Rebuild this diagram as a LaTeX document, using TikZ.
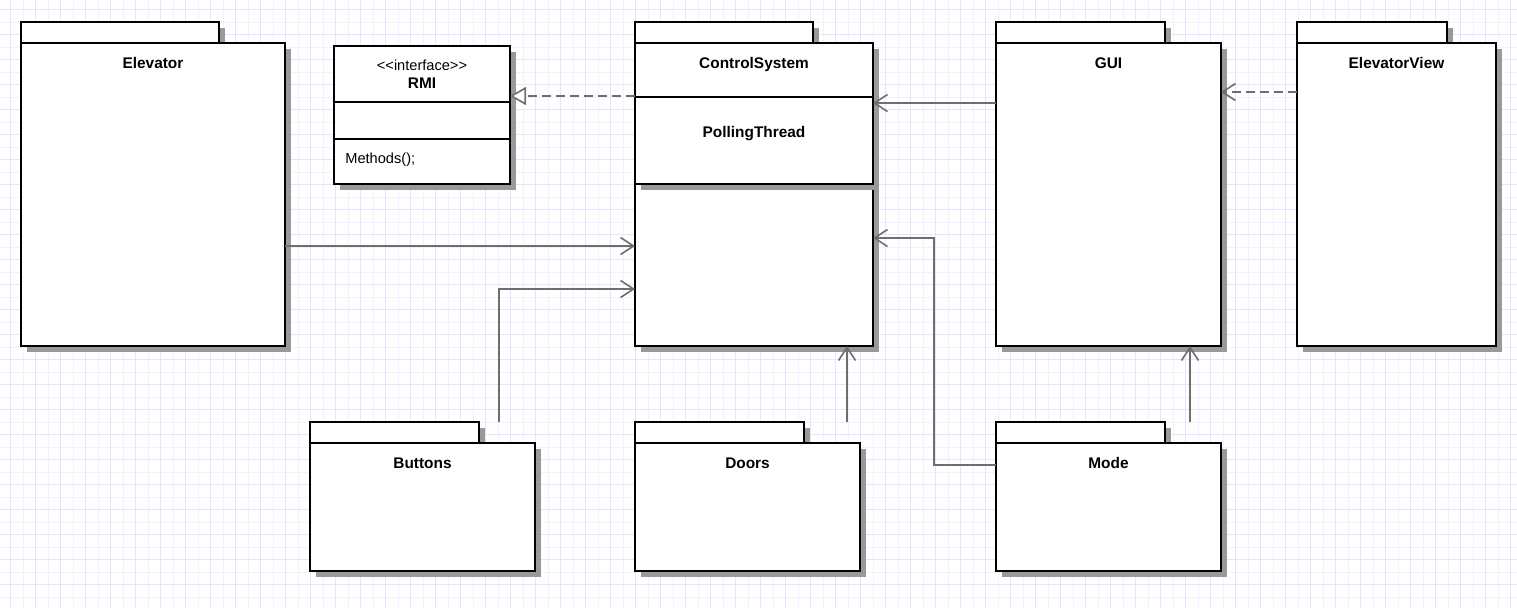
\documentclass[tikz,border=0pt]{standalone}
\usepackage{fontspec}
\setmainfont{Liberation Sans}
\usetikzlibrary{arrows.meta, shadows}
\definecolor{gridminor}{HTML}{F2F2FF}
\definecolor{gridmajor}{HTML}{E4E4FF}
\definecolor{linkgray}{HTML}{6E6E6E}
\tikzset{
    pkgbox/.style={draw, line width=1pt, fill=white, anchor=north west, inner sep=0pt, outer sep=0pt,
        drop shadow={shadow xshift=3pt, shadow yshift=-3pt, fill=black!40, opacity=1}},
    pkgtab/.style={pkgbox, minimum height=10.5pt},
    pkgtitle/.style={font=\fontsize{7.7}{9}\selectfont\bfseries, anchor=base, inner sep=0pt},
    pkgname/.style={pkgtitle, yshift=-12.5pt},
    umltext/.style={font=\fontsize{7.3}{9}\selectfont, inner sep=0pt, anchor=base},
    assoc/.style={linkgray, line width=0.8pt, -{Straight Barb[length=6.5pt, width=8.5pt]}},
    depend/.style={assoc, dash pattern=on 4.5pt off 2.5pt},
    realize/.style={linkgray, line width=0.8pt, dash pattern=on 4.5pt off 2.5pt,
        -{Triangle[open, length=8pt, width=9pt, fill=white]}}
}

\begin{document}
\begin{tikzpicture}[x=0.5pt, y=-0.5pt]

    \useasboundingbox (0,0) rectangle (1517,607);
    \fill[white] (0,0) rectangle (1517,607);

    % background grid
    \begin{scope}[shift={(10.5,9.5)}]
        \draw[gridminor, line width=0.5pt, step=6.25pt] (-12.5,-12.5) grid (1512,600);
        \draw[gridmajor, line width=0.5pt, step=12.5pt] (-12.5,-12.5) grid (1512,600);
    \end{scope}

    % packages
    \node[pkgtab, minimum width=99pt] (elevtab) at (21,22) {};
    \node[pkgbox, minimum width=132pt, minimum height=151.5pt, label={[pkgname]north:Elevator}] (elev) at (21,43) {};

    \node[pkgtab, minimum width=89pt] (ctrltab) at (635,22) {};
    \node[pkgbox, minimum width=119pt, minimum height=151.5pt, label={[pkgname]north:ControlSystem}] (ctrl) at (635,43) {};
    \node[pkgbox, minimum width=119pt, minimum height=43.5pt, label={[pkgtitle, yshift=-20pt]north:PollingThread}] (poll) at (635,97) {};

    \node[pkgtab, minimum width=84.5pt] (guitab) at (996,22) {};
    \node[pkgbox, minimum width=112.5pt, minimum height=151.5pt, label={[pkgname]north:GUI}] (gui) at (996,43) {};

    \node[pkgtab, minimum width=75pt] (viewtab) at (1297,22) {};
    \node[pkgbox, minimum width=99.5pt, minimum height=151.5pt, label={[pkgname]north:ElevatorView}] (view) at (1297,43) {};

    \node[pkgtab, minimum width=84.5pt] (btntab) at (310,422) {};
    \node[pkgbox, minimum width=112.5pt, minimum height=64pt, label={[pkgname]north:Buttons}] (btn) at (310,443) {};

    \node[pkgtab, minimum width=84.5pt] (doortab) at (635,422) {};
    \node[pkgbox, minimum width=112.5pt, minimum height=64pt, label={[pkgname]north:Doors}] (door) at (635,443) {};

    \node[pkgtab, minimum width=84.5pt] (modetab) at (996,422) {};
    \node[pkgbox, minimum width=112.5pt, minimum height=64pt, label={[pkgname]north:Mode}] (mode) at (996,443) {};

    % interface class
    \node[pkgbox, minimum width=88pt, minimum height=69pt] (rmi) at (334,46) {};
    \draw[line width=1pt] (rmi.west |- 0,102) -- (rmi.east |- 0,102);
    \draw[line width=1pt] (rmi.west |- 0,139) -- (rmi.east |- 0,139);
    \node[umltext] (rmistereo) at (422,70) {<\kern0pt<interface>\kern0pt>};
    \node[umltext, font=\fontsize{7.7}{9}\selectfont\bfseries] (rminame) at (422,88) {RMI};
    \node[umltext, anchor=base west] (rmiops) at (345,163) {Methods();};

    % connectors
    \coordinate (modebend) at (934,238);
    \draw[realize] (ctrl.west |- 0,96) -- (rmi.east |- 0,96);
    \draw[depend] (view.west |- 0,92) -- (gui.east |- 0,92);
    \draw[assoc] (gui.west |- 0,103) -- (ctrl.east |- 0,103);
    \draw[assoc] (elev.east |- 0,246) -- (ctrl.west |- 0,246);
    \draw[assoc] (btntab.north -| 499,0) |- (ctrl.west |- 0,289);
    \draw[assoc] (doortab.north -| 847,0) -- (ctrl.south -| 847,0);
    \draw[assoc] (modetab.north -| 1190,0) -- (gui.south -| 1190,0);
    \draw[assoc] (mode.west |- 0,465) -| (modebend) -- (ctrl.east |- modebend);

\end{tikzpicture}
\end{document}
